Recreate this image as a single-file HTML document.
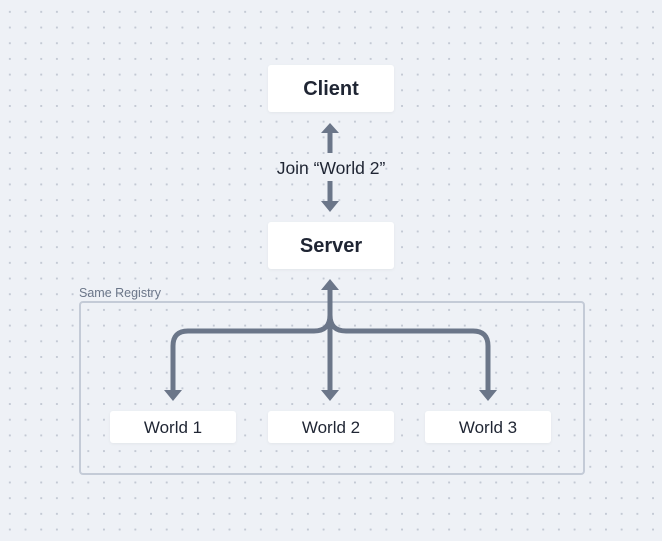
<!DOCTYPE html>
<html><head><style>
body{margin:0;width:662px;height:541px;overflow:hidden;background-color:#eef1f6;
background-image:radial-gradient(circle,#c3c9d4 1px,transparent 1.2px);background-size:15.7px 15.7px;background-position:2px 4px;
font-family:"Liberation Sans","DejaVu Sans",sans-serif;position:relative}
.b{position:absolute;background:#fff;border-radius:3px;color:#1f2533;display:flex;align-items:center;justify-content:center;box-shadow:0 1px 3px rgba(0,0,0,.05)}
</style></head><body>
<div style="position:absolute;left:79px;top:301px;width:502px;height:170px;border:2px solid #c4cbd7;border-radius:4px"></div>
<div style="position:absolute;left:79px;top:286px;font-size:12.5px;color:#6b7689">Same Registry</div>
<div class="b" style="left:268px;top:65px;width:126px;height:47px;font-size:20px;font-weight:bold;padding-top:2px;box-sizing:border-box">Client</div>
<div class="b" style="left:268px;top:222px;width:126px;height:47px;font-size:20px;font-weight:bold;padding-top:2px;box-sizing:border-box">Server</div>
<div class="b" style="left:110px;top:411px;width:126px;height:32px;font-size:17px;padding-top:2px;box-sizing:border-box">World 1</div>
<div class="b" style="left:268px;top:411px;width:126px;height:32px;font-size:17px;padding-top:2px;box-sizing:border-box">World 2</div>
<div class="b" style="left:425px;top:411px;width:126px;height:32px;font-size:17px;padding-top:2px;box-sizing:border-box">World 3</div>
<div style="position:absolute;left:255px;top:158px;width:152px;text-align:center;font-size:17.5px;color:#1f2533">Join “World 2”</div>
<svg width="662" height="541" style="position:absolute;left:0;top:0" fill="#6b7689" stroke="#6b7689">
<g stroke-width="5" fill="none">
<line x1="330" y1="130" x2="330" y2="153"/>
<line x1="330" y1="181" x2="330" y2="204"/>
<line x1="330" y1="287" x2="330" y2="392"/>
<path d="M330 315 Q330 331 314 331 L188 331 Q173 331 173 346 L173 392"/>
<path d="M330 315 Q330 331 346 331 L473 331 Q488 331 488 346 L488 392"/>
</g>
<g stroke="none">
<polygon points="321,133 339,133 330,123"/>
<polygon points="321,201 339,201 330,212"/>
<polygon points="321,290 339,290 330,279"/>
<polygon points="321,390 339,390 330,401"/>
<polygon points="164,390 182,390 173,401"/>
<polygon points="479,390 497,390 488,401"/>
</g>
</svg>
</body></html>
